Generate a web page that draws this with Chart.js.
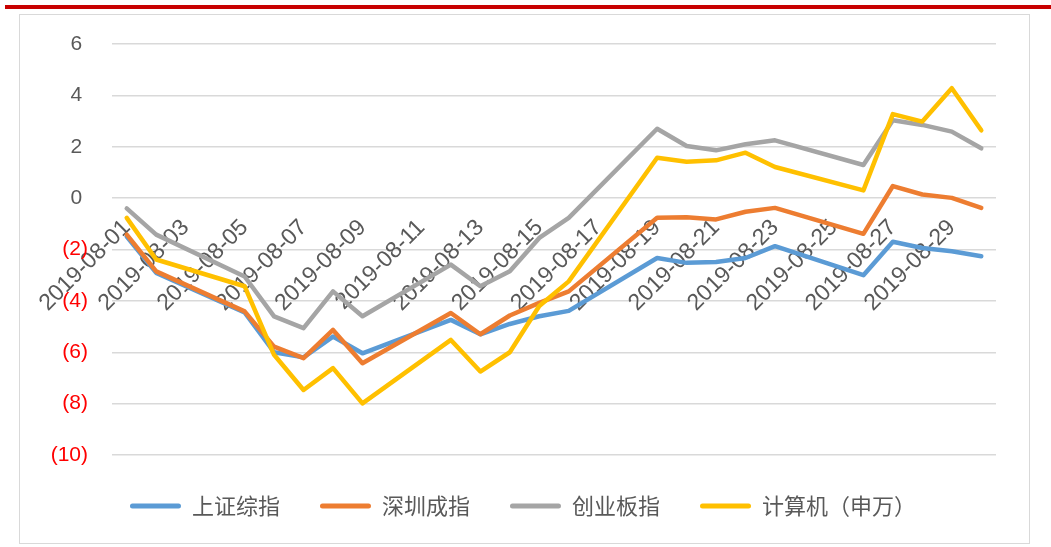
<!DOCTYPE html>
<html>
<head>
<meta charset="utf-8">
<script src="https://cdn.jsdelivr.net/npm/chart.js"></script>
<style>
  body { margin: 0; background: #fff; }
  #redbar { position: absolute; left: 5px; top: 5px; width: 1046px; height: 4px; background: #c80000; }
  #frame { position: absolute; left: 19px; top: 14px; width: 1009px; height: 528px; border: 1.5px solid #d9d9d9; }
  #chart { position: absolute; left: 0; top: 0; }
</style>
</head>
<body>
<div id="redbar"></div>
<div id="frame"></div>
<canvas id="chart" width="1051" height="547"></canvas>
<script>
// dates (calendar days, weekends left empty)
const dates = [
  "2019-08-01", "2019-08-02", "2019-08-03", "2019-08-04", "2019-08-05", "2019-08-06",
  "2019-08-07", "2019-08-08", "2019-08-09", "2019-08-10", "2019-08-11", "2019-08-12",
  "2019-08-13", "2019-08-14", "2019-08-15", "2019-08-16", "2019-08-17", "2019-08-18",
  "2019-08-19", "2019-08-20", "2019-08-21", "2019-08-22", "2019-08-23", "2019-08-24",
  "2019-08-25", "2019-08-26", "2019-08-27", "2019-08-28", "2019-08-29", "2019-08-30"
];
const seriesNames = ["上证综指", "深圳成指", "创业板指", "计算机（申万）"];

// cumulative change, %
const shComposite = [-1.50, -2.91, null, null, -4.45, -6.00, -6.20, -5.39, -6.04, null, null, -4.74,
  -5.30, -4.90, -4.60, -4.39, null, null, -2.33, -2.52, -2.49, -2.33, -1.87, null, null, -3.00,
  -1.70, -1.94, -2.07, -2.26];
const szComponent = [-1.42, -2.85, null, null, -4.41, -5.78, -6.23, -5.13, -6.43, null, null, -4.47,
  -5.30, -4.57, -4.08, -3.63, null, null, -0.76, -0.74, -0.83, -0.53, -0.38, null, null, -1.39,
  0.47, 0.14, 0.01, -0.38];
const chiNext = [-0.40, -1.42, null, null, -3.05, -4.60, -5.06, -3.63, -4.60, null, null, -2.59,
  -3.43, -2.85, -1.55, -0.77, null, null, 2.70, 2.03, 1.86, 2.10, 2.25, null, null, 1.29,
  3.03, 2.85, 2.59, 1.94];
const computerSW = [-0.77, -2.39, null, null, -3.43, -6.10, -7.47, -6.62, -7.99, null, null, -5.52,
  -6.75, -6.00, -4.20, -3.24, null, null, 1.57, 1.42, 1.47, 1.77, 1.21, null, null, 0.30,
  3.27, 2.98, 4.28, 2.64];

const colors = ["#5b9bd5", "#ed7d31", "#a5a5a5", "#ffc000"];
const allData = [shComposite, szComponent, chiNext, computerSW];

const datasets = allData.map((d, i) => ({
  label: seriesNames[i],
  data: d,
  borderColor: colors[i],
  backgroundColor: colors[i],
  borderWidth: 4.5,
  pointRadius: 0,
  spanGaps: true,
  tension: 0,
  borderJoinStyle: "round",
  borderCapStyle: "round",
  order: 4 - i   // later series drawn on top
}));

new Chart(document.getElementById("chart"), {
  type: "line",
  data: { labels: dates, datasets: datasets },
  options: {
    responsive: false,
    animation: false,
    layout: { padding: { left: 50, right: 55, top: 44, bottom: 20 } },
    plugins: {
      tooltip: { enabled: false },
      legend: {
        position: "bottom",
        labels: {
          boxWidth: 51,
          boxHeight: 5,
          useBorderRadius: true,
          borderRadius: 2.5,
          padding: 40,
          color: "#595959",
          font: { family: "'Noto Sans CJK SC', 'Liberation Sans'", size: 22 },
          sort: (a, b) => a.datasetIndex - b.datasetIndex,
          generateLabels: (chart) =>
            Chart.defaults.plugins.legend.labels.generateLabels(chart)
              .map(l => ({ ...l, fillStyle: l.strokeStyle, lineWidth: 0 }))
        }
      }
    },
    scales: {
      x: {
        type: "category",
        offset: true,
        position: { y: 0 },
        grid: { display: false },
        border: { display: false },
        ticks: {
          autoSkip: false,
          minRotation: 45,
          maxRotation: 45,
          padding: 8,
          color: "#595959",
          font: { family: "'Liberation Sans'", size: 23 },
          callback: function (value, index) {
            return index % 2 === 0 ? this.getLabelForValue(value) : "";
          }
        }
      },
      y: {
        min: -10,
        max: 6,
        afterFit: (scale) => { scale.width = 62; },
        grid: { color: "#d9d9d9", lineWidth: 1.5, drawTicks: false },
        border: { display: false },
        ticks: {
          stepSize: 2,
          padding: 24,
          font: { family: "'Liberation Sans'", size: 21 },
          color: (ctx) => ctx.tick.value < 0 ? "#ff0000" : "#595959",
          callback: (v) => v < 0 ? "(" + Math.abs(v) + ")" : v + " "
        }
      }
    }
  }
});
</script>
</body>
</html>
